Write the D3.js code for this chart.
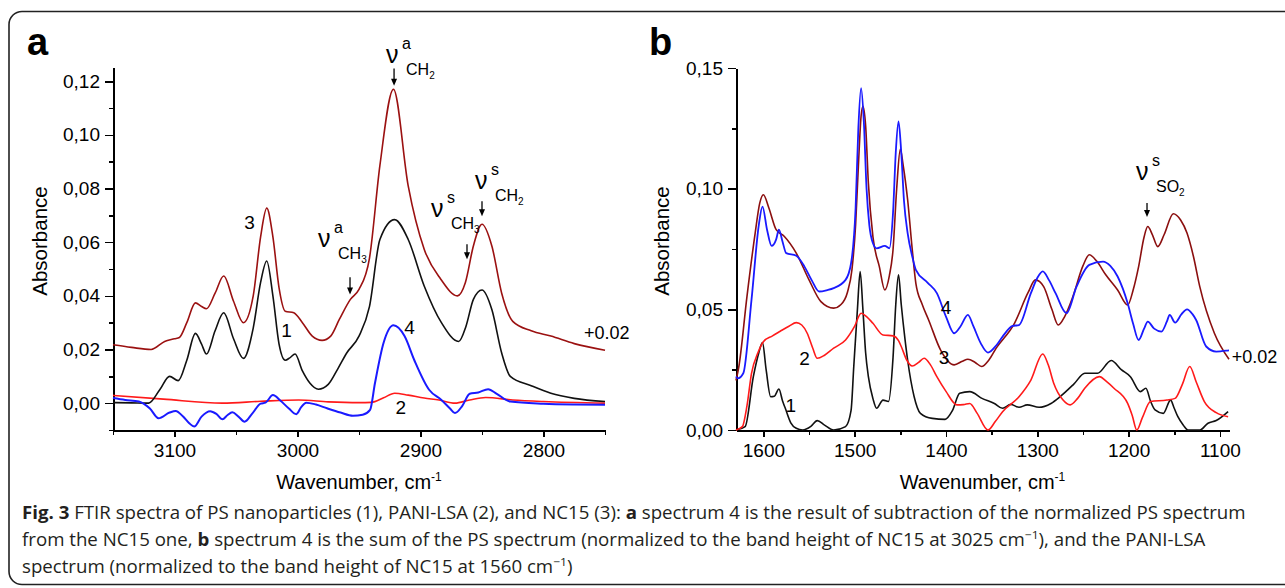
<!DOCTYPE html>
<html>
<head>
<meta charset="utf-8">
<title>FTIR spectra</title>
<script src="https://d3js.org/d3.v7.min.js"></script>
<style>
 body { margin: 0; background: #fff; }
 .tick text, .lbl { font-family: "Liberation Sans", Arial, sans-serif; fill: #000; }
 .axis path, .axis line { stroke: #000; shape-rendering: crispEdges; }
 .cap { font-family: "Open Sans", sans-serif; fill: #231f20; }
</style>
</head>
<body>
<div id="chart"></div>
<script>
// panel a : C-H stretching region
var aPS = [[3150,0.0002],[3135,0.0001],[3121,0.0],[3112,0.005],[3104,0.010],[3097,0.0084],[3090,0.016],[3083,0.026],[3078,0.022],[3074,0.0183],[3067,0.027],[3060,0.0337],[3052,0.024],[3044,0.0167],[3036,0.028],[3030,0.045],[3025,0.053],[3020,0.040],[3015,0.022],[3010,0.016],[3006,0.017],[3002,0.0183],[2996,0.012],[2990,0.0075],[2983,0.0052],[2975,0.007],[2967,0.013],[2960,0.0187],[2950,0.025],[2941.5,0.036],[2933,0.061],[2921,0.0684],[2910,0.061],[2897,0.0437],[2883,0.030],[2869,0.023],[2863,0.0287],[2857,0.0387],[2850,0.0422],[2842,0.0349],[2834,0.0187],[2827,0.010],[2810,0.0065],[2794,0.0037],[2775,0.0018],[2750,0.0006]];
var aPANI = [[3150,0.0029],[3109,0.0015],[3061,0.0],[3030,0.0007],[2999,0.0012],[2975,0.0005],[2950,0.0002],[2940,0.0003],[2930,0.002],[2921,0.0037],[2910,0.003],[2897,0.0019],[2885,0.0012],[2872,0.0],[2860,0.0012],[2847,0.0021],[2825,0.0012],[2800,0.0006],[2750,0.0]];
var aNC = [[3150,0.0218],[3135,0.0208],[3119,0.020],[3108,0.023],[3100,0.024],[3096,0.0245],[3090,0.030],[3083,0.0374],[3078,0.036],[3074,0.0352],[3067,0.041],[3060,0.0474],[3052,0.038],[3044,0.030],[3036,0.040],[3030,0.062],[3025,0.0727],[3020,0.062],[3015,0.043],[3010,0.0343],[3003,0.0337],[2996,0.030],[2988,0.025],[2980,0.0234],[2973,0.025],[2966,0.0312],[2957,0.0387],[2950,0.0424],[2941.5,0.054],[2933,0.0886],[2922,0.117],[2910,0.081],[2897,0.0574],[2883.5,0.0462],[2870,0.040],[2863.5,0.045],[2857,0.0586],[2850,0.0667],[2842,0.0586],[2834,0.041],[2825,0.0305],[2810,0.027],[2794,0.025],[2775,0.0222],[2750,0.0197]];
var aDiff = [[3150,0.0019],[3140,0.0012],[3129,0.0006],[3120,-0.002],[3113,-0.0056],[3104,-0.0035],[3099,-0.0029],[3093,-0.005],[3088,-0.0075],[3084,-0.0087],[3078,-0.005],[3071,-0.003],[3066,-0.004],[3061,-0.006],[3057,-0.0045],[3053,-0.0034],[3048,-0.005],[3043,-0.0069],[3037,-0.004],[3030,-0.0002],[3026,0.0002],[3020,0.003],[3014,0.001],[3007,-0.002],[3001,-0.0041],[2997,-0.0015],[2993,0.0002],[2985,-0.0005],[2976,-0.0019],[2965,-0.0035],[2955,-0.0047],[2947,-0.0043],[2941,-0.0025],[2937,0.0075],[2930,0.0225],[2922,0.029],[2913,0.025],[2905,0.016],[2893,0.005],[2883,0.0012],[2876,-0.002],[2872,-0.0037],[2866,-0.001],[2860,0.0035],[2853,0.004],[2845,0.0052],[2838,0.0035],[2827,0.0006],[2800,-0.0002],[2775,-0.0005],[2750,-0.0006]];

// panel b : fingerprint region
var bPS = [[1630,0],[1620,0.0014],[1611,0.0221],[1605,0.032],[1601,0.0362],[1597,0.025],[1592,0.0138],[1588,0.014],[1583,0.017],[1579,0.012],[1576,0.009],[1570,0.003],[1564,0.0007],[1557,0],[1548,0.0015],[1541,0.0039],[1533,0.002],[1523,0],[1510,0.0014],[1504,0.008],[1501,0.0263],[1497,0.050],[1494,0.0657],[1491,0.050],[1488,0.032],[1485,0.0221],[1480,0.013],[1476,0.009],[1469,0.0124],[1463,0.0118],[1458,0.030],[1455,0.052],[1452,0.0643],[1449,0.052],[1445,0.038],[1442,0.029],[1435,0.014],[1428,0.0069],[1415,0.0048],[1401,0.0044],[1393,0.008],[1385,0.0152],[1374,0.0159],[1360,0.013],[1347,0.011],[1338,0.009],[1329,0.0106],[1320,0.0094],[1311,0.0104],[1298,0.0094],[1285,0.011],[1275,0.0138],[1260,0.019],[1248,0.0235],[1234,0.0235],[1219,0.0288],[1208,0.025],[1198,0.0221],[1187,0.0159],[1181,0.0173],[1176,0.012],[1171,0.0083],[1162,0.0069],[1154,0.0124],[1150,0.009],[1146,0.0055],[1140,0.002],[1135,0],[1122,0],[1113,0.0028],[1104,0.0039],[1091,0.0076]];
var bPANI = [[1630,0],[1623,0.0014],[1618,0.010],[1613,0.0235],[1606,0.032],[1600,0.0366],[1590,0.039],[1582,0.0408],[1572,0.043],[1564,0.0445],[1558,0.0435],[1552,0.0401],[1546,0.034],[1541,0.0297],[1533,0.031],[1523,0.0339],[1510,0.0373],[1500,0.043],[1493,0.0484],[1487,0.047],[1480,0.0442],[1469,0.0394],[1458,0.039],[1452,0.037],[1449,0.0346],[1443,0.029],[1437,0.0265],[1430,0.028],[1424,0.0297],[1417,0.027],[1410,0.0221],[1400,0.016],[1388,0.0104],[1381,0.0105],[1374,0.011],[1366,0.007],[1354,0],[1346,0.0035],[1338,0.0076],[1320,0.0138],[1307,0.0207],[1294,0.0315],[1288,0.027],[1282,0.0194],[1272,0.0125],[1264,0.0104],[1256,0.013],[1248,0.0173],[1232,0.0221],[1224,0.020],[1216,0.0173],[1201,0.011],[1196,0.006],[1191,0],[1185,0.005],[1176,0.0118],[1158,0.0124],[1149,0.0131],[1141,0.019],[1133,0.0263],[1126,0.020],[1117,0.0118],[1104,0.0072],[1091,0.0055]];
var bNC = [[1630,0.0205],[1627,0.026],[1618,0.0553],[1609,0.0816],[1604,0.094],[1600,0.0975],[1594,0.092],[1586,0.083],[1577,0.0802],[1564,0.0733],[1550,0.0622],[1537,0.0532],[1523,0.0505],[1515,0.052],[1508,0.057],[1503,0.0664],[1499,0.085],[1496,0.109],[1493,0.130],[1491,0.1341],[1488,0.126],[1485,0.1023],[1480,0.080],[1473,0.0677],[1467,0.058],[1462,0.064],[1458,0.0747],[1454,0.100],[1450,0.1164],[1447,0.110],[1442,0.0954],[1437,0.075],[1433,0.0608],[1426,0.052],[1419,0.0456],[1406,0.0332],[1391,0.027],[1382,0.0285],[1376,0.0293],[1368,0.028],[1361,0.0263],[1353,0.029],[1345,0.0339],[1325,0.0442],[1310,0.057],[1302,0.0622],[1293,0.0594],[1284,0.050],[1277,0.0435],[1270,0.047],[1261,0.0553],[1250,0.068],[1243,0.0726],[1235,0.070],[1225,0.0643],[1212,0.058],[1201,0.0518],[1195,0.058],[1189,0.0677],[1183,0.080],[1179,0.0843],[1174,0.081],[1168,0.076],[1161,0.081],[1151,0.0896],[1143,0.087],[1136,0.0816],[1129,0.072],[1122,0.0594],[1106,0.0401],[1090,0.0293]];
var bSum = [[1630,0.0222],[1628,0.0214],[1622,0.0235],[1613,0.054],[1605,0.085],[1601,0.0926],[1596,0.083],[1591,0.0763],[1586,0.079],[1583,0.083],[1579,0.078],[1575,0.0733],[1564,0.0722],[1555,0.0677],[1547,0.062],[1539,0.0574],[1530,0.058],[1523,0.0588],[1510,0.0622],[1504,0.069],[1499,0.092],[1496,0.125],[1493,0.1417],[1490,0.128],[1487,0.100],[1484,0.085],[1480,0.0774],[1476,0.0753],[1467,0.0763],[1462,0.0753],[1458,0.090],[1455,0.115],[1452,0.1279],[1449,0.115],[1446,0.095],[1442,0.0816],[1437,0.072],[1433,0.0664],[1420,0.061],[1410,0.0567],[1400,0.047],[1391,0.0401],[1384,0.043],[1376,0.0477],[1370,0.043],[1362,0.036],[1354,0.0321],[1345,0.035],[1338,0.0387],[1327,0.0431],[1320,0.0435],[1307,0.0567],[1300,0.063],[1294,0.0657],[1287,0.062],[1280,0.0567],[1268,0.0484],[1257,0.0594],[1243,0.0684],[1228,0.0698],[1220,0.068],[1212,0.0636],[1201,0.0525],[1195,0.044],[1189,0.0373],[1183,0.042],[1179,0.0449],[1172,0.042],[1164,0.0408],[1158,0.045],[1155,0.0477],[1149,0.0445],[1142,0.048],[1136,0.050],[1130,0.048],[1126,0.0456],[1115,0.0346],[1104,0.0325],[1092,0.0329],[1090,0.033]];

// axes: ticks
var aXMajor = [3100, 3000, 2900, 2800];
var aXMinor = [3150, 3050, 2950, 2850, 2750];
var aYMajor = [0, 0.02, 0.04, 0.06, 0.08, 0.10, 0.12];
var aYMinor = [-0.01, 0.01, 0.03, 0.05, 0.07, 0.09, 0.11];
var bXMajor = [1600, 1500, 1400, 1300, 1200, 1100];
var bXMinor = [1550, 1450, 1350, 1250, 1150];
var bYMajor = [0, 0.05, 0.10, 0.15];
var bYMinor = [0.025, 0.075, 0.125];

// curve number labels [text, wavenumber, absorbance]
var aLabels = [["3", 3039, 0.0675], ["1", 3009, 0.0271], ["4", 2909, 0.0282], ["2", 2916, -0.0014]];
var bLabels = [["4", 1400, 0.0509], ["2", 1555, 0.0298], ["3", 1402, 0.0302], ["1", 1570, 0.0104]];
var aOffset = ["+0.02", 2767, 0.0263];
var bOffset = ["+0.02", 1087, 0.0306];

// band assignments [sup, group, sub, label wn, label A, arrow wn, arrow top A, arrow tip A]
var aBands = [["a", "CH", "2", 2928.0, 0.1269, 2921.5, 0.1247, 0.1183],
              ["a", "CH", "3", 2983.3, 0.0581, 2957.3, 0.0469, 0.0405],
              ["s", "CH", "3", 2891.5, 0.0694, 2862.2, 0.0592, 0.0536],
              ["s", "CH", "2", 2855.7, 0.0798, 2850.0, 0.0753, 0.0697]];
var bBands = [["s", "SO", "2", 1191.9, 0.1036, 1179.8, 0.0941, 0.0883]];

var W = 1285, H = 588;
var svg = d3.select("#chart").append("svg")
  .attr("width", W).attr("height", H);

// frame
svg.append("rect")
  .attr("x", 9).attr("y", 11.5)
  .attr("width", 1300).attr("height", 573)
  .attr("rx", 13)
  .attr("fill", "none").attr("stroke", "#222").attr("stroke-width", 1.6);

var fmt = function(d) { return d3.format(".2f")(d).replace(".", ","); };

function panel(opt) {
  var x = d3.scaleLinear().domain(opt.xDom).range(opt.xRange);
  var y = d3.scaleLinear().domain(opt.yDom).range(opt.yRange);
  var g = svg.append("g");
  var y0 = opt.yRange[0], x0 = opt.xRange[0];

  // minor ticks first
  g.append("g").attr("class", "axis")
    .attr("transform", "translate(0," + y0 + ")")
    .call(d3.axisBottom(x).tickValues(opt.xMinor).tickSize(5).tickSizeOuter(0).tickFormat(""))
    .call(function(s) { s.select(".domain").remove(); s.selectAll("line").attr("stroke-width", 1.6); });
  g.append("g").attr("class", "axis")
    .attr("transform", "translate(" + x0 + ",0)")
    .call(d3.axisLeft(y).tickValues(opt.yMinor).tickSize(4).tickSizeOuter(0).tickFormat(""))
    .call(function(s) { s.select(".domain").remove(); s.selectAll("line").attr("stroke-width", 1.6); });

  g.append("g").attr("class", "axis")
    .attr("transform", "translate(0," + y0 + ")")
    .call(d3.axisBottom(x).tickValues(opt.xMajor).tickSize(7).tickSizeOuter(0).tickPadding(7).tickFormat(d3.format("d")))
    .call(function(s) {
      s.select(".domain").attr("stroke-width", 2);
      s.selectAll("line").attr("stroke-width", 1.6);
      s.selectAll("text").style("font-size", "19px");
    });
  g.append("g").attr("class", "axis")
    .attr("transform", "translate(" + x0 + ",0)")
    .call(d3.axisLeft(y).tickValues(opt.yMajor).tickSize(8).tickSizeOuter(0).tickPadding(5).tickFormat(fmt))
    .call(function(s) {
      s.select(".domain").attr("stroke-width", 2);
      s.selectAll("line").attr("stroke-width", 1.6);
      s.selectAll("text").style("font-size", "19px");
    });

  // axis titles
  var xt = g.append("text").attr("class", "lbl")
    .attr("x", (opt.xRange[0] + opt.xRange[1]) / 2).attr("y", 489)
    .attr("text-anchor", "middle").style("font-size", "20px");
  xt.append("tspan").text("Wavenumber, cm");
  xt.append("tspan").attr("dy", -8).style("font-size", "12px").text("-1");

  g.append("text").attr("class", "lbl")
    .attr("transform", "translate(" + opt.yTitleX + ",241) rotate(-90)")
    .attr("text-anchor", "middle").style("font-size", "20.5px")
    .text("Absorbance");

  g.append("text").attr("class", "lbl")
    .attr("x", opt.letterX).attr("y", 55)
    .style("font-size", "38px").style("font-weight", "bold")
    .text(opt.letter);

  var line = d3.line()
    .x(function(d) { return x(d[0]); })
    .y(function(d) { return y(d[1]); })
    .curve(d3.curveMonotoneX);

  opt.series.forEach(function(s) {
    g.append("path").datum(s.data)
      .attr("fill", "none")
      .attr("stroke", s.color)
      .attr("stroke-width", s.w)
      .attr("stroke-linejoin", "round")
      .attr("d", line);
  });

  g.selectAll(".num").data(opt.labels).enter().append("text")
    .attr("class", "lbl")
    .attr("x", function(d) { return x(d[1]); })
    .attr("y", function(d) { return y(d[2]); })
    .attr("text-anchor", "middle").attr("dy", "0.36em")
    .style("font-size", "19px")
    .text(function(d) { return d[0]; });

  g.append("text").attr("class", "lbl")
    .attr("x", x(opt.offset[1])).attr("y", y(opt.offset[2]))
    .attr("dy", "0.36em").style("font-size", "18px")
    .text(opt.offset[0]);

  opt.bands.forEach(function(b) {
    var lx = x(b[3]), ly = y(b[4]);
    g.append("text").attr("class", "lbl")
      .attr("x", lx).attr("y", ly)
      .style("font-size", "25px").text("\u03bd");
    g.append("text").attr("class", "lbl")
      .attr("x", lx + 16).attr("y", ly - 14)
      .style("font-size", "16px").text(b[0]);
    var t = g.append("text").attr("class", "lbl")
      .attr("x", lx + 20).attr("y", ly + 12)
      .style("font-size", "16px");
    t.append("tspan").text(b[1]);
    t.append("tspan").attr("dy", 4).style("font-size", "10px").text(b[2]);
    var ax = x(b[5]), at = y(b[6]), ab = y(b[7]);
    g.append("line")
      .attr("x1", ax).attr("x2", ax).attr("y1", at).attr("y2", ab - 4)
      .attr("stroke", "#000").attr("stroke-width", 1.3);
    g.append("path")
      .attr("d", "M" + (ax - 3) + "," + (ab - 7) + "L" + (ax + 3) + "," + (ab - 7) + "L" + ax + "," + ab + "Z")
      .attr("fill", "#000");
  });
}

panel({
  xDom: [3150, 2750], xRange: [113, 605],
  yDom: [-0.01, 0.125], yRange: [430, 67.8],
  xMajor: aXMajor, xMinor: aXMinor, yMajor: aYMajor, yMinor: aYMinor,
  yTitleX: 47, letter: "a", letterX: 27,
  series: [
    { data: aPANI, color: "#ff1a1a", w: 1.6 },
    { data: aPS, color: "#111", w: 1.6 },
    { data: aNC, color: "#9b1111", w: 1.6 },
    { data: aDiff, color: "#1a1aff", w: 2 }
  ],
  labels: aLabels, offset: aOffset, bands: aBands
});

panel({
  xDom: [1630, 1090], xRange: [736, 1229],
  yDom: [0, 0.15], yRange: [430, 68],
  xMajor: bXMajor, xMinor: bXMinor, yMajor: bYMajor, yMinor: bYMinor,
  yTitleX: 669, letter: "b", letterX: 649,
  series: [
    { data: bPS, color: "#111", w: 1.6 },
    { data: bPANI, color: "#ff1a1a", w: 1.6 },
    { data: bNC, color: "#8b0f0f", w: 1.6 },
    { data: bSum, color: "#1a1aff", w: 1.8 }
  ],
  labels: bLabels, offset: bOffset, bands: bBands
});

// caption (printed in a narrow setting: full-height glyphs squeezed to the column width)
var capLines = [
  [["Fig. 3", true], [" FTIR spectra of PS nanoparticles (1), PANI-LSA (2), and NC15 (3): ", false], ["a", true], [" spectrum 4 is the result of subtraction of the normalized PS spectrum", false]],
  [["from the NC15 one, ", false], ["b", true], [" spectrum 4 is the sum of the PS spectrum (normalized to the band height of NC15 at 3025 cm", false], ["\u22121", "sup"], ["), and the PANI-LSA", false]],
  [["spectrum (normalized to the band height of NC15 at 1560 cm", false], ["\u22121", "sup"], [")", false]]
];
var capY = [519, 546, 573];
var capSize = 17.5;
var capTexts = capLines.map(function(parts, i) {
  var t = svg.append("text").attr("class", "cap")
    .attr("x", 0).attr("y", 0).style("font-size", capSize + "px");
  parts.forEach(function(p, j) {
    var sp = t.append("tspan").text(p[0]);
    if (p[1] === true) sp.style("font-weight", "bold");
    if (p[1] === "sup") sp.attr("dy", -7).style("font-size", "0.65em");
    else if (j > 0 && parts[j - 1][1] === "sup") sp.attr("dy", 7);
  });
  return t;
});
var len = capTexts[0].node().getComputedTextLength();
var sx = 1225 / len;
capTexts.forEach(function(t, i) {
  t.attr("transform", "translate(22," + capY[i] + ") scale(" + sx + ",1)");
});
</script>
</body>
</html>
